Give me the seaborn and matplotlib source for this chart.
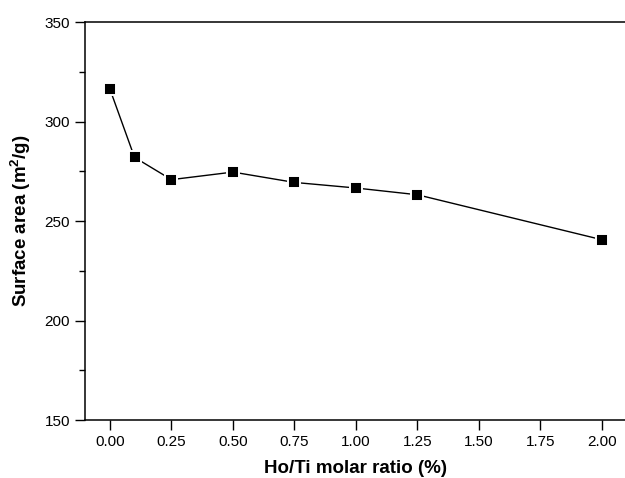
import matplotlib
matplotlib.use("Agg")
import matplotlib.pyplot as plt
import seaborn as sns
from matplotlib.ticker import MultipleLocator

# Ho/Ti molar ratio (%) vs BET surface area (m2/g)
ratio = [0.00, 0.10, 0.25, 0.50, 0.75, 1.00, 1.25, 2.00]
surface_area = [316.3, 282.0, 270.8, 274.6, 269.4, 266.6, 263.2, 240.6]
x_ticks = [0.00, 0.25, 0.50, 0.75, 1.00, 1.25, 1.50, 1.75, 2.00]
y_ticks = [150, 200, 250, 300, 350]

sns.set_style("ticks")
plt.rcParams['font.family'] = ['Liberation Sans', 'DejaVu Sans']
plt.rcParams['mathtext.fontset'] = 'custom'
plt.rcParams['mathtext.rm'] = 'Liberation Sans'
plt.rcParams['mathtext.bf'] = 'Liberation Sans:bold'
plt.rcParams['text.color'] = 'black'
plt.rcParams['axes.labelcolor'] = 'black'

fig = plt.figure(figsize=(6.25, 4.78), dpi=100)
ax = fig.add_axes([0.1365, 0.1213, 0.866, 0.8326])

sns.lineplot(x=ratio, y=surface_area, ax=ax, color='black', linewidth=1.0,
             marker='s', markersize=8, markerfacecolor='black',
             markeredgecolor='white', markeredgewidth=1.4)

ax.set_xlim(-0.1, 2.1)
ax.set_ylim(150, 350)
ax.set_xticks(x_ticks)
ax.set_xticklabels([f"{t:.2f}" for t in x_ticks])
ax.set_yticks(y_ticks)
ax.yaxis.set_minor_locator(MultipleLocator(25))

for side in ['top', 'right', 'left', 'bottom']:
    ax.spines[side].set_visible(True)
    ax.spines[side].set_linewidth(1.1)
    ax.spines[side].set_color('black')

ax.tick_params(axis='both', which='major', direction='out', length=7, width=1.0,
               labelsize=11, colors='black', pad=4)
ax.tick_params(axis='y', which='minor', direction='out', length=4, width=1.0, colors='black')

ax.set_xlabel("Ho/Ti molar ratio (%)", fontsize=13.5, fontweight='bold', labelpad=8, color='black')
ax.set_ylabel(r"Surface area (m$^{\mathbf{2}}$/g)", fontsize=13.5, fontweight='bold', labelpad=8, color='black')

fig.savefig("out.png", dpi=100)
